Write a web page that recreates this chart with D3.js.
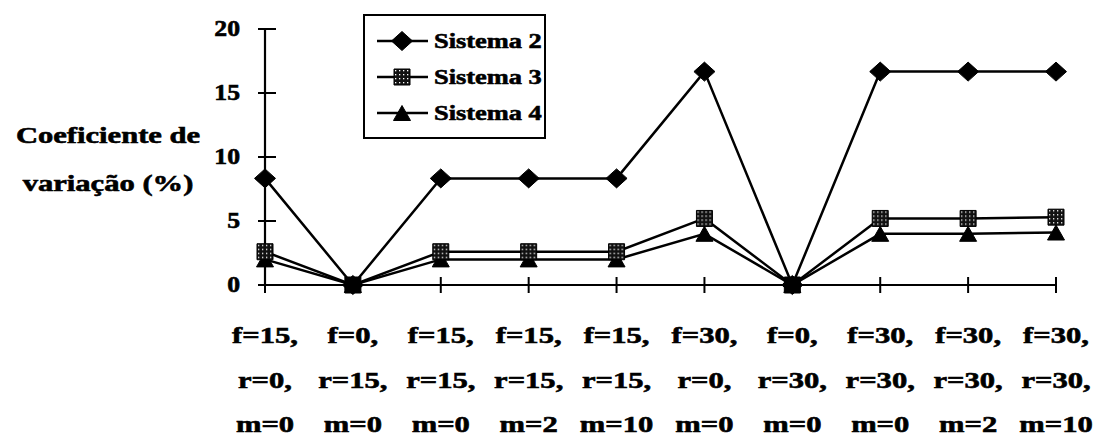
<!DOCTYPE html>
<html>
<head>
<meta charset="utf-8">
<script src="https://cdn.jsdelivr.net/npm/d3@7"></script>
<style>
  body { margin: 0; background: #fff; }
</style>
</head>
<body>
<svg id="chart" width="1094" height="436"></svg>
<script>
// Categories: three-line labels (f, r, m settings)
const categories = [
  ["f=15,", "r=0,", "m=0"],
  ["f=0,", "r=15,", "m=0"],
  ["f=15,", "r=15,", "m=0"],
  ["f=15,", "r=15,", "m=2"],
  ["f=15,", "r=15,", "m=10"],
  ["f=30,", "r=0,", "m=0"],
  ["f=0,", "r=30,", "m=0"],
  ["f=30,", "r=30,", "m=0"],
  ["f=30,", "r=30,", "m=2"],
  ["f=30,", "r=30,", "m=10"]
];
const sistema2 = [8.33, 0, 8.33, 8.33, 8.33, 16.67, 0, 16.67, 16.67, 16.67];
const sistema3 = [2.6, 0, 2.6, 2.6, 2.6, 5.2, 0, 5.2, 5.2, 5.3];
const sistema4 = [2.0, 0, 2.0, 2.0, 2.0, 4.0, 0, 4.0, 4.0, 4.1];
const yTicks = [0, 5, 10, 15, 20];
const seriesNames = ["Sistema 2", "Sistema 3", "Sistema 4"];
const yTitle = ["Coeficiente de", "variação (%)"];

const svg = d3.select("#chart");

// Heavy bold serif text, widened horizontally
function wideText(parent, x, y, str, anchor, sx, size) {
  const g = parent.append("g").attr("transform", `translate(${x},${y}) scale(${sx},1)`);
  return g.append("text")
    .style("font-family", '"Liberation Serif"')
    .style("font-weight", "bold")
    .style("font-size", `${size}px`)
    .attr("text-anchor", anchor)
    .attr("fill", "#000")
    .attr("stroke", "#000")
    .attr("stroke-width", 0.6)
    .text(str);
}

// Stippled fill for square markers
const defs = svg.append("defs");
const pat = defs.append("pattern").attr("id", "stipple")
  .attr("patternUnits", "userSpaceOnUse").attr("width", 4).attr("height", 4);
pat.append("rect").attr("width", 4).attr("height", 4).attr("fill", "#111");
pat.append("rect").attr("x", 1).attr("y", 1).attr("width", 1.3).attr("height", 1.3).attr("fill", "#fff");

const x = d3.scalePoint().domain(d3.range(categories.length)).range([265, 1056]).padding(0);
const y = d3.scaleLinear().domain([0, 20]).range([285, 29]);

// Y axis: line with ticks crossing both sides
const gy = svg.append("g");
gy.append("line").attr("x1", x(0)).attr("x2", x(0)).attr("y1", y(20)).attr("y2", y(0))
  .attr("stroke", "#000").attr("stroke-width", 2.2);
gy.selectAll("line.t").data(yTicks).join("line").attr("class", "t")
  .attr("x1", x(0) - 7).attr("x2", x(0) + 11)
  .attr("y1", d => y(d)).attr("y2", d => y(d))
  .attr("stroke", "#000").attr("stroke-width", 2);
yTicks.forEach(v => wideText(gy, 240, y(v) + 7, String(v), "end", 1.12, 23));

// X axis
const gx = svg.append("g");
gx.append("line").attr("x1", x(0)).attr("x2", x(categories.length - 1))
  .attr("y1", y(0)).attr("y2", y(0)).attr("stroke", "#000").attr("stroke-width", 2.2);
gx.selectAll("line.t").data(d3.range(categories.length)).join("line").attr("class", "t")
  .attr("x1", d => x(d)).attr("x2", d => x(d))
  .attr("y1", y(0) - 8).attr("y2", y(0) + 8)
  .attr("stroke", "#000").attr("stroke-width", 2);
categories.forEach((lines, i) => {
  lines.forEach((s, k) => wideText(gx, x(i), 343 + k * 44.5, s, "middle", 1.33, 23));
});

// Y axis title
yTitle.forEach((s, i) => wideText(svg, 108, 143 + i * 48, s, "middle", 1.33, 23));

// Marker shapes
const diamond = (w, h) => `M${-w / 2},0L0,${-h / 2}L${w / 2},0L0,${h / 2}Z`;
const square = s => `M${-s / 2},${-s / 2}h${s}v${s}h${-s}Z`;
const triangle = (w, h) => `M0,${-h / 2}L${w / 2},${h / 2}L${-w / 2},${h / 2}Z`;
const markers = [
  { d: diamond(21, 19), fill: "#000" },
  { d: square(16), fill: "url(#stipple)" },
  { d: triangle(17, 15), fill: "#000" }
];
const series = [sistema2, sistema3, sistema4];
const line = d3.line().x((d, i) => x(i)).y(d => y(d));

series.forEach(vals => {
  svg.append("path").datum(vals).attr("d", line)
    .attr("fill", "none").attr("stroke", "#000").attr("stroke-width", 2.5);
});
[2, 0, 1].forEach(s => {
  const m = markers[s];
  svg.append("g").selectAll("path").data(series[s]).join("path")
    .attr("transform", (d, i) => `translate(${x(i)},${y(d)})`)
    .attr("d", m.d)
    .attr("fill", d => d === 0 ? "#000" : m.fill)
    .attr("stroke", "#000").attr("stroke-width", 1);
});

// Legend
const lg = svg.append("g");
lg.append("rect").attr("x", 364).attr("y", 15).attr("width", 181).attr("height", 123)
  .attr("fill", "#fff").attr("stroke", "#000").attr("stroke-width", 2);
seriesNames.forEach((name, i) => {
  const cy = 41 + i * 36;
  lg.append("line").attr("x1", 377).attr("x2", 428).attr("y1", cy).attr("y2", cy)
    .attr("stroke", "#000").attr("stroke-width", 2.5);
  lg.append("path").attr("transform", `translate(402,${cy})`)
    .attr("d", markers[i].d)
    .attr("fill", markers[i].fill).attr("stroke", "#000").attr("stroke-width", 1);
  wideText(lg, 434, cy + 7, name, "start", 1.2, 22);
});
</script>
</body>
</html>
